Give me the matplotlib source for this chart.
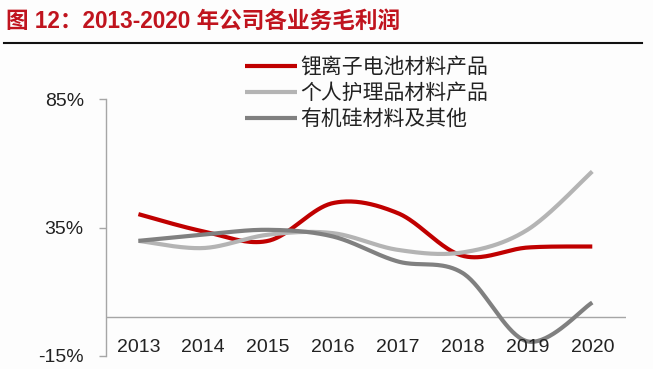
import numpy as np
import matplotlib
matplotlib.use("Agg")
import matplotlib.pyplot as plt

years = [2013, 2014, 2015, 2016, 2017, 2018, 2019, 2020]
lithium = [40.2, 33.5, 29.8, 44.5, 40.6, 24.0, 27.2, 27.6]
personal = [29.8, 27.0, 32.2, 32.8, 26.3, 25.3, 34.1, 56.8]
silicone = [29.8, 32.2, 34.1, 31.5, 21.8, 17.3, -9.3, 5.8]
series_names = ["锂离子电池材料产品", "个人护理品材料产品", "有机硅材料及其他"]
series_colors = ["#C00000", "#B4B4B4", "#808080"]
yticks = [-15, 35, 85]
ytick_labels = ["-15%", "35%", "85%"]
title = "图 12：2013-2020 年公司各业务毛利润"

FAM = ["Liberation Sans", "Noto Sans CJK SC", "DejaVu Sans"]
plt.rcParams["font.family"] = FAM


def smooth(x, y, n=40):
    x = np.asarray(x, float)
    y = np.asarray(y, float)
    px = np.concatenate([[x[0]], x, [x[-1]]])
    py = np.concatenate([[y[0]], y, [y[-1]]])
    xs, ys = [], []
    t = np.linspace(0, 1, n)
    for i in range(1, len(px) - 2):
        p0 = np.array([px[i], py[i]])
        p3 = np.array([px[i + 1], py[i + 1]])
        p1 = p0 + (np.array([px[i + 1], py[i + 1]]) - np.array([px[i - 1], py[i - 1]])) / 6
        p2 = p3 - (np.array([px[i + 2], py[i + 2]]) - np.array([px[i], py[i]])) / 6
        b = ((1 - t) ** 3)[:, None] * p0 + (3 * (1 - t) ** 2 * t)[:, None] * p1 \
            + (3 * (1 - t) * t ** 2)[:, None] * p2 + (t ** 3)[:, None] * p3
        xs.append(b[:, 0])
        ys.append(b[:, 1])
    return np.concatenate(xs), np.concatenate(ys)


W, H = 653, 369
fig = plt.figure(figsize=(W / 100, H / 100), dpi=100)
fig.patch.set_facecolor("#FDFDFD")

left, right = 106 / W, 626 / W
bottom, top = 1 - 356 / H, 1 - 99 / H
ax = fig.add_axes([left, bottom, right - left, top - bottom])
ax.set_facecolor("#FDFDFD")

for data, name, col in zip([lithium, personal, silicone], series_names, series_colors):
    sx, sy = smooth(years, data)
    ax.plot(sx, sy, color=col, lw=3.0, solid_capstyle="butt", label=name)

ax.set_xlim(2012.5, 2020.52)
ax.set_ylim(-15, 85)
ax.axhline(0, color="#A6A6A6", lw=1.0, zorder=0)

for s in ["top", "right", "bottom"]:
    ax.spines[s].set_visible(False)
ax.spines["left"].set_color("#A6A6A6")
ax.spines["left"].set_linewidth(1.0)

ax.set_yticks(yticks)
ax.set_yticklabels(ytick_labels, fontsize=14, color="#222222")
ax.tick_params(axis="y", length=5, width=1.0, color="#A6A6A6", pad=11)

ax.set_xticks([])
for yr in years:
    ax.text(yr, -11.8, str(yr), ha="center", va="center", fontsize=14, color="#222222")

leg = ax.legend(loc="upper left", bbox_to_anchor=(245 / W, 1 - 57 / H), bbox_transform=fig.transFigure,
                frameon=False, fontsize=15, handlelength=2.5, handletextpad=0.15,
                labelspacing=0.3, borderaxespad=0, borderpad=0)
for t in leg.get_texts():
    t.set_color("#222222")

fig.text(6 / W, 1 - 21 / H, title, fontsize=16.3, fontweight="bold", color="#C0141E",
         ha="left", va="center")
fig.add_artist(plt.Line2D([4 / W, 642 / W], [1 - 43 / H, 1 - 43 / H], color="#111111", lw=1.5,
                          transform=fig.transFigure))

fig.savefig("out.png", dpi=100, facecolor=fig.get_facecolor())
